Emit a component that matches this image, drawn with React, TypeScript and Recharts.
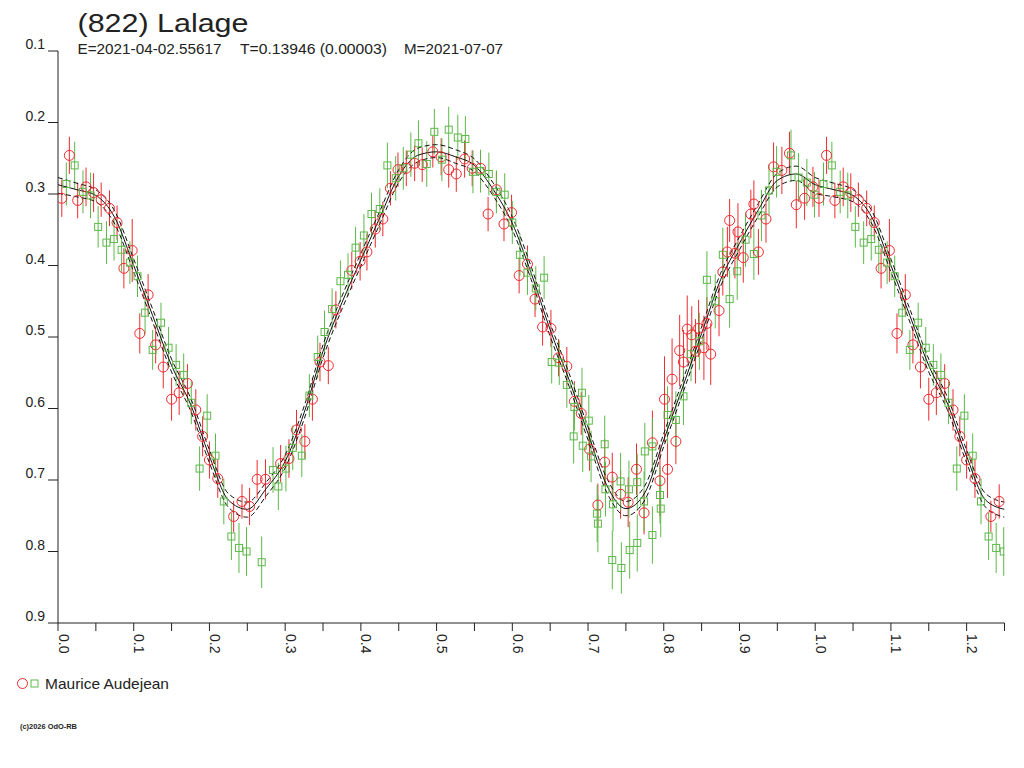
import { ComposedChart, Scatter, Line, XAxis, YAxis, ErrorBar } from "recharts";

// [phase, magnitude, error], one period (0..1)
const redPoints = [
  [0.005, 0.306, 0.026], [0.015, 0.246, 0.026], [0.026, 0.309, 0.025], [0.037, 0.29, 0.027],
  [0.047, 0.298, 0.027], [0.057, 0.308, 0.024], [0.068, 0.32, 0.025], [0.078, 0.34, 0.024],
  [0.087, 0.404, 0.028], [0.098, 0.379, 0.044], [0.108, 0.495, 0.028], [0.119, 0.441, 0.029],
  [0.129, 0.511, 0.026], [0.139, 0.542, 0.03], [0.15, 0.587, 0.03], [0.16, 0.578, 0.031],
  [0.171, 0.565, 0.027], [0.182, 0.602, 0.029], [0.191, 0.639, 0.028], [0.2, 0.672, 0.026],
  [0.211, 0.698, 0.027], [0.232, 0.751, 0.022], [0.243, 0.73, 0.024], [0.253, 0.737, 0.026],
  [0.263, 0.699, 0.027], [0.274, 0.699, 0.028], [0.294, 0.677, 0.026], [0.305, 0.67, 0.027],
  [0.315, 0.63, 0.028], [0.326, 0.646, 0.024], [0.336, 0.587, 0.03], [0.346, 0.535, 0.027],
  [0.357, 0.54, 0.026], [0.367, 0.462, 0.026], [0.388, 0.407, 0.026], [0.399, 0.394, 0.027],
  [0.408, 0.381, 0.026], [0.419, 0.349, 0.026], [0.429, 0.335, 0.024], [0.439, 0.292, 0.024],
  [0.449, 0.266, 0.024], [0.46, 0.264, 0.025], [0.471, 0.257, 0.025], [0.481, 0.259, 0.024],
  [0.495, 0.241, 0.022], [0.506, 0.248, 0.026], [0.516, 0.266, 0.025], [0.526, 0.272, 0.025],
  [0.537, 0.251, 0.026], [0.547, 0.264, 0.025], [0.558, 0.264, 0.024], [0.568, 0.328, 0.024],
  [0.579, 0.294, 0.025], [0.589, 0.342, 0.024], [0.599, 0.326, 0.025], [0.609, 0.414, 0.025],
  [0.62, 0.398, 0.026], [0.63, 0.447, 0.025], [0.64, 0.486, 0.026], [0.651, 0.488, 0.026],
  [0.661, 0.529, 0.026], [0.672, 0.541, 0.027], [0.682, 0.59, 0.028], [0.691, 0.607, 0.03],
  [0.702, 0.657, 0.03], [0.713, 0.735, 0.03], [0.722, 0.675, 0.032], [0.732, 0.696, 0.034],
  [0.743, 0.72, 0.034], [0.753, 0.731, 0.035], [0.764, 0.685, 0.036], [0.774, 0.746, 0.03],
  [0.785, 0.648, 0.045], [0.795, 0.701, 0.05], [0.801, 0.587, 0.06], [0.805, 0.685, 0.04],
  [0.811, 0.559, 0.057], [0.816, 0.646, 0.032], [0.821, 0.519, 0.05], [0.826, 0.535, 0.045],
  [0.831, 0.489, 0.047], [0.837, 0.497, 0.04], [0.842, 0.52, 0.045], [0.846, 0.488, 0.04],
  [0.853, 0.515, 0.045], [0.857, 0.481, 0.037], [0.862, 0.524, 0.043], [0.873, 0.463, 0.036],
  [0.878, 0.409, 0.033], [0.884, 0.381, 0.035], [0.887, 0.337, 0.03], [0.894, 0.383, 0.035],
  [0.898, 0.353, 0.04], [0.905, 0.389, 0.035], [0.915, 0.328, 0.034], [0.919, 0.314, 0.033],
  [0.925, 0.381, 0.032], [0.935, 0.335, 0.033], [0.945, 0.262, 0.034], [0.956, 0.267, 0.033],
  [0.966, 0.243, 0.03], [0.975, 0.315, 0.033], [0.986, 0.306, 0.03], [0.997, 0.29, 0.028],
];

const greenPoints = [
  [0.011, 0.286, 0.03], [0.022, 0.26, 0.033], [0.033, 0.297, 0.03], [0.043, 0.302, 0.032],
  [0.053, 0.346, 0.029], [0.064, 0.368, 0.03], [0.074, 0.363, 0.03], [0.084, 0.378, 0.031],
  [0.095, 0.396, 0.03], [0.105, 0.415, 0.029], [0.115, 0.466, 0.03], [0.125, 0.518, 0.028],
  [0.136, 0.48, 0.028], [0.146, 0.515, 0.029], [0.156, 0.539, 0.029], [0.166, 0.553, 0.03],
  [0.176, 0.592, 0.03], [0.187, 0.684, 0.031], [0.197, 0.61, 0.03], [0.208, 0.666, 0.031],
  [0.219, 0.73, 0.032], [0.229, 0.779, 0.033], [0.239, 0.795, 0.035], [0.249, 0.8, 0.034],
  [0.269, 0.815, 0.036], [0.284, 0.686, 0.032], [0.291, 0.709, 0.033], [0.301, 0.684, 0.032],
  [0.31, 0.655, 0.031], [0.322, 0.666, 0.03], [0.332, 0.582, 0.03], [0.343, 0.528, 0.03],
  [0.352, 0.493, 0.03], [0.362, 0.461, 0.029], [0.373, 0.422, 0.029], [0.383, 0.413, 0.03],
  [0.393, 0.375, 0.029], [0.404, 0.358, 0.03], [0.414, 0.328, 0.03], [0.425, 0.321, 0.029],
  [0.435, 0.26, 0.032], [0.446, 0.278, 0.031], [0.456, 0.264, 0.03], [0.466, 0.245, 0.031],
  [0.476, 0.229, 0.032], [0.487, 0.258, 0.032], [0.497, 0.213, 0.032], [0.507, 0.252, 0.03],
  [0.516, 0.21, 0.032], [0.528, 0.221, 0.032], [0.538, 0.223, 0.032], [0.548, 0.269, 0.03],
  [0.558, 0.268, 0.03], [0.569, 0.272, 0.03], [0.579, 0.297, 0.03], [0.59, 0.301, 0.03],
  [0.6, 0.34, 0.03], [0.61, 0.385, 0.03], [0.62, 0.41, 0.031], [0.631, 0.432, 0.031],
  [0.642, 0.417, 0.03], [0.652, 0.535, 0.03], [0.662, 0.536, 0.031], [0.672, 0.567, 0.032],
  [0.681, 0.639, 0.038], [0.682, 0.598, 0.033], [0.692, 0.578, 0.035], [0.693, 0.652, 0.037],
  [0.701, 0.617, 0.036], [0.704, 0.667, 0.036], [0.712, 0.747, 0.04], [0.713, 0.761, 0.04],
  [0.722, 0.65, 0.04], [0.723, 0.713, 0.038], [0.732, 0.812, 0.041], [0.733, 0.734, 0.038],
  [0.743, 0.702, 0.04], [0.744, 0.823, 0.036], [0.754, 0.713, 0.04], [0.755, 0.798, 0.04],
  [0.765, 0.703, 0.04], [0.765, 0.788, 0.04], [0.774, 0.73, 0.042], [0.775, 0.66, 0.04],
  [0.785, 0.653, 0.04], [0.785, 0.777, 0.04], [0.795, 0.721, 0.04], [0.796, 0.74, 0.04],
  [0.805, 0.609, 0.04], [0.816, 0.616, 0.04], [0.826, 0.583, 0.04], [0.836, 0.524, 0.038],
  [0.847, 0.506, 0.04], [0.857, 0.42, 0.04], [0.868, 0.45, 0.038], [0.878, 0.385, 0.038],
  [0.887, 0.447, 0.04], [0.897, 0.408, 0.04], [0.908, 0.364, 0.038], [0.919, 0.384, 0.036],
  [0.929, 0.33, 0.036], [0.939, 0.295, 0.036], [0.949, 0.269, 0.036], [0.968, 0.246, 0.036],
  [0.978, 0.277, 0.034], [0.989, 0.284, 0.033], [0.999, 0.301, 0.032],
];

// fitted lightcurve, read every 0.025 in phase
const curvePhase = [
  0, 0.025, 0.05, 0.075, 0.1, 0.125, 0.15, 0.175, 0.2, 0.225, 0.25, 0.275, 0.3, 0.325,
  0.35, 0.375, 0.4, 0.425, 0.45, 0.475, 0.5, 0.525, 0.55, 0.575, 0.6, 0.625, 0.65, 0.675,
  0.7, 0.725, 0.75, 0.775, 0.8, 0.825, 0.85, 0.875, 0.9, 0.925, 0.95, 0.975, 1,
];
const curveMid = [
  0.287, 0.294, 0.302, 0.333, 0.4, 0.47, 0.54, 0.594, 0.667, 0.728, 0.741, 0.712, 0.674, 0.606,
  0.52, 0.452, 0.392, 0.333, 0.275, 0.246, 0.241, 0.248, 0.26, 0.294, 0.341, 0.411, 0.49, 0.56,
  0.635, 0.708, 0.74, 0.718, 0.644, 0.57, 0.495, 0.42, 0.369, 0.322, 0.281, 0.272, 0.287,
];
const curveUpper = [
  0.277, 0.285, 0.294, 0.324, 0.391, 0.461, 0.531, 0.585, 0.658, 0.719, 0.731, 0.703, 0.665, 0.597,
  0.511, 0.443, 0.383, 0.324, 0.266, 0.236, 0.231, 0.238, 0.251, 0.285, 0.332, 0.402, 0.481, 0.551,
  0.626, 0.698, 0.73, 0.708, 0.635, 0.561, 0.486, 0.411, 0.36, 0.313, 0.271, 0.261, 0.277,
];
const curveLower = [
  0.299, 0.304, 0.311, 0.342, 0.409, 0.479, 0.549, 0.603, 0.676, 0.738, 0.752, 0.722, 0.683, 0.615,
  0.529, 0.461, 0.401, 0.342, 0.284, 0.255, 0.249, 0.257, 0.269, 0.303, 0.35, 0.42, 0.499, 0.569,
  0.644, 0.718, 0.75, 0.728, 0.653, 0.579, 0.504, 0.429, 0.378, 0.331, 0.29, 0.281, 0.299,
];

const xMajorTicks = [0, 0.1, 0.2, 0.3, 0.4, 0.5, 0.6, 0.7, 0.8, 0.9, 1.0, 1.1, 1.2];
const xMajorLabels = ["0.0", "0.1", "0.2", "0.3", "0.4", "0.5", "0.6", "0.7", "0.8", "0.9", "1.0", "1.1", "1.2"];
const xMinorTicks = [0.05, 0.15, 0.25, 0.35, 0.45, 0.55, 0.65, 0.75, 0.85, 0.95, 1.05, 1.15, 1.25];
const yTicks = [0.1, 0.2, 0.3, 0.4, 0.5, 0.6, 0.7, 0.8, 0.9];

const RED = "#ee2a2e";
const GREEN = "#5cb848";
const INK = "#222";
const FONT = "'Liberation Sans', Arial, sans-serif";

// the plot shows 1.25 periods: the first quarter period is repeated after 1.0
const wrapRows = (rows: number[][], upTo: number) => [
  ...rows,
  ...rows.filter((r) => r[0] > 0 && r[0] <= upTo).map(([p, m, e]) => [p + 1, m, e]),
];
const toPoints = (rows: number[][]) =>
  wrapRows(rows, 0.2499).map(([x, y, err]) => ({ x, y, err }));
const toCurve = (mags: number[]) =>
  wrapRows(curvePhase.map((p, i) => [p, mags[i], 0]), 0.25).map(([x, y]) => ({ x, y }));

const redData = toPoints(redPoints);
const greenData = toPoints(greenPoints);
const midLine = toCurve(curveMid);
const upperLine = toCurve(curveUpper);
const lowerLine = toCurve(curveLower);
const xTicks = [...xMajorTicks, ...xMinorTicks].sort((a, b) => a - b);

const CircleMark = (props: any) => (
  <circle cx={props.cx} cy={props.cy} r={5} fill="none" stroke={RED} strokeWidth={1} />
);
const SquareMark = (props: any) => (
  <rect x={props.cx - 3.5} y={props.cy - 3.5} width={7} height={7} fill="none" stroke={GREEN} strokeWidth={1} />
);

const XTick = (props: any) => {
  const idx = xMajorTicks.findIndex((t) => Math.abs(t - props.payload.value) < 1e-6);
  if (idx < 0) return null;
  const x = props.payload.coordinate + 0.5;
  const y = props.y + 1;
  return (
    <text x={x} y={y} transform={`rotate(90 ${x} ${y})`} fontSize={14} fontFamily={FONT} fill={INK}>
      {xMajorLabels[idx]}
    </text>
  );
};

const YTick = (props: any) => (
  <text x={props.x - 1} y={props.y - 2} textAnchor="end" fontSize={14} fontFamily={FONT} fill={INK}>
    {props.payload.value.toFixed(1)}
  </text>
);

export default function App() {
  return (
    <div style={{ position: "absolute", left: 0, top: 0, width: 1024, height: 768, background: "#fff" }}>
      <ComposedChart width={1024} height={768} margin={{ top: 51, right: 19.5, bottom: 0, left: 0 }}>
        <XAxis
          type="number"
          dataKey="x"
          domain={[0, 1.25]}
          ticks={xTicks}
          interval={0}
          allowDataOverflow
          height={145}
          tickSize={8}
          tickMargin={2}
          stroke={INK}
          tick={<XTick />}
        />
        <YAxis
          type="number"
          dataKey="y"
          domain={[0.1, 0.9]}
          reversed
          ticks={yTicks}
          interval={0}
          allowDataOverflow
          width={58}
          tickSize={10}
          tickMargin={2}
          stroke={INK}
          tick={<YTick />}
        />
        <Scatter data={redData} shape={<CircleMark />} isAnimationActive={false}>
          <ErrorBar dataKey="err" direction="y" width={0} stroke={RED} strokeWidth={1} isAnimationActive={false} />
        </Scatter>
        <Scatter data={greenData} shape={<SquareMark />} isAnimationActive={false}>
          <ErrorBar dataKey="err" direction="y" width={0} stroke={GREEN} strokeWidth={1} isAnimationActive={false} />
        </Scatter>
        <Line data={upperLine} dataKey="y" type="monotone" stroke="#111" strokeWidth={1} strokeDasharray="5 3" dot={false} isAnimationActive={false} />
        <Line data={lowerLine} dataKey="y" type="monotone" stroke="#111" strokeWidth={1} strokeDasharray="5 3" dot={false} isAnimationActive={false} />
        <Line data={midLine} dataKey="y" type="monotone" stroke="#111" strokeWidth={1} dot={false} isAnimationActive={false} />
      </ComposedChart>
      <svg width={1024} height={768} style={{ position: "absolute", left: 0, top: 0, pointerEvents: "none" }}>
        <g fontFamily={FONT} fill={INK}>
          <text x={77.5} y={32} fontSize={25} textLength={171} lengthAdjust="spacingAndGlyphs">(822) Lalage</text>
          <text x={77.5} y={53.5} fontSize={14.5} textLength={144} lengthAdjust="spacingAndGlyphs">E=2021-04-02.55617</text>
          <text x={240} y={53.5} fontSize={14.5} textLength={147} lengthAdjust="spacingAndGlyphs">T=0.13946 (0.00003)</text>
          <text x={404} y={53.5} fontSize={14.5} textLength={99} lengthAdjust="spacingAndGlyphs">M=2021-07-07</text>
          <circle cx={22.5} cy={683.5} r={5} fill="none" stroke={RED} />
          <rect x={31} y={680} width={7} height={7} fill="none" stroke={GREEN} />
          <text x={45} y={688.5} fontSize={15} textLength={124} lengthAdjust="spacingAndGlyphs">Maurice Audejean</text>
          <text x={20} y={728.5} fontSize={8} fontWeight="bold" textLength={57} lengthAdjust="spacingAndGlyphs">(c)2026 OdO-RB</text>
        </g>
      </svg>
    </div>
  );
}
